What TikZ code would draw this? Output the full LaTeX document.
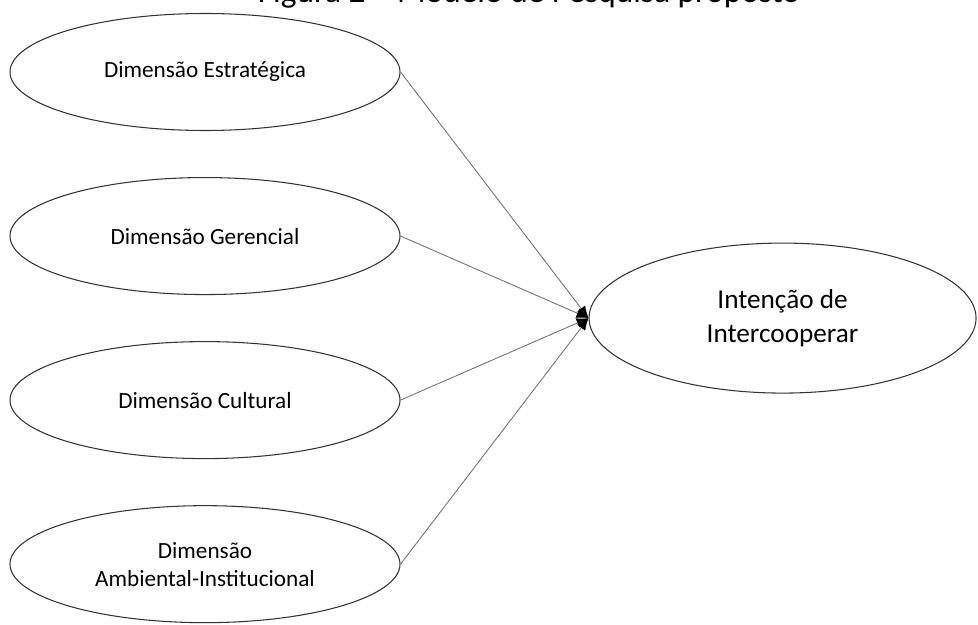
\documentclass[tikz,border=0pt]{standalone}
\usepackage{fontspec}
\setmainfont{Carlito}
\usetikzlibrary{arrows.meta,positioning,calc,shapes.geometric}
\tikzset{
  dim/.style    ={ellipse, draw=black!80, line width=0.6pt, align=center, inner sep=0pt,
                  minimum width=7.8cm, minimum height=2.34cm, font=\fontsize{13.2}{16}\selectfont},
  target/.style ={dim, minimum width=7.74cm, minimum height=3cm, font=\fontsize{15.5}{19}\selectfont},
  ttl/.style    ={font=\fontsize{19}{22}\selectfont, anchor=base},
  ar/.style     ={-{Latex[length=2.4mm,width=2mm,color=black]}, draw=black!55, line width=0.5pt},
}
\begin{document}
\begin{tikzpicture}[node distance=9.2mm]
\useasboundingbox (0,0) rectangle (19.56,-12.5);

% ---- caption, cut at the top ----
\begin{scope}
  \clip (0,0) rectangle (19.56,-1);
  \node[ttl] (caption) at (10.58,-0.05) {Figura 2 -- Modelo de Pesquisa proposto};
\end{scope}

% ---- dimensions ----
\node[dim] (estrat) at (4.1,-1.44) {Dimensão Estratégica};
\node[dim, below=of estrat] (geren) {Dimensão Gerencial};
\node[dim, below=of geren] (cultur) {Dimensão Cultural};
\node[dim, below=of cultur] (ambient) {Dimensão\\Ambiental-Institucional};

% ---- intention ----
\node[target, anchor=west] (intent) at ($(geren.east)!0.5!(cultur.east) + (37.6mm,0)$)
  {Intenção de\\Intercooperar};

\foreach \src in {estrat,geren,cultur,ambient}
  \draw[ar] (\src.east) -- (intent.west);

\end{tikzpicture}
\end{document}
